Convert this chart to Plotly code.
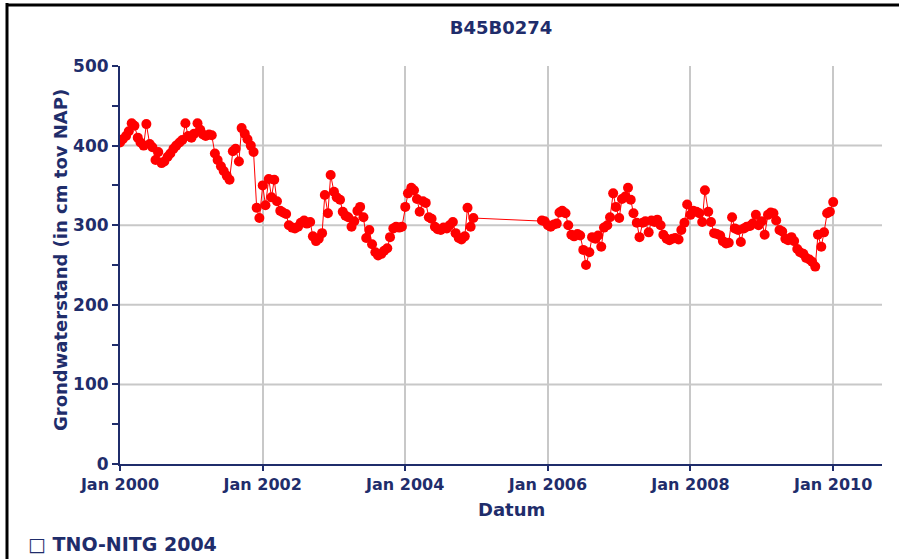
import pandas as pd
import plotly.graph_objects as go

# Groundwater level readings (cm above NAP), sampled on the 1st and 15th of each month
levels_2000 = [404, 408, 412, 418, 428, 425, 410, 404, 400, 427, 402, 398,
               382, 392, 378, 380, 386, 390, 396, 400, 404, 407, 428, 412]
levels_2001 = [410, 415, 428, 420, 414, 412, 414, 413, 390, 382, 374, 368,
               362, 357, 393, 396, 380, 422, 415, 408, 400, 392, 322, 309]
levels_2002 = [350, 325, 358, 335, 357, 330, 318, 316, 314, 300, 297, 296,
               298, 303, 306, 302, 304, 286, 280, 283, 290, 338, 315, 363]
levels_2003 = [342, 335, 332, 317, 312, 310, 298, 305, 318, 323, 310, 284,
               294, 276, 266, 262, 264, 268, 271, 285, 296, 298, 297, 298]
levels_2004 = [323, 340, 347, 344, 333, 317, 330, 328, 310, 308, 298, 295,
               294, 297, 296, 300, 304, 290, 284, 282, 286, 322, 298, 309]

levels_2005_end = [306, 305]
levels_2006 = [300, 298, 301, 302, 316, 318, 315, 300, 288, 286, 289, 287,
               269, 250, 266, 285, 283, 287, 273, 297, 300, 310, 340, 323]
levels_2007 = [309, 333, 336, 347, 332, 315, 303, 285, 303, 305, 291, 306,
               304, 307, 300, 288, 283, 281, 283, 284, 282, 294, 303, 326]
levels_2008 = [313, 318, 317, 315, 304, 344, 317, 304, 290, 289, 287, 280,
               277, 278, 310, 296, 294, 279, 296, 298, 299, 302, 313, 300]
levels_2009 = [305, 288, 313, 316, 315, 306, 294, 292, 283, 281, 285, 280,
               270, 266, 264, 259, 257, 254, 248, 288, 273, 291, 315, 317]
levels_2010 = [329]

period_1 = ("2000-01-01", "2004-12-15")
period_2 = ("2005-12-01", "2010-01-01")

x_ticks = ["2000-01-01", "2002-01-01", "2004-01-01", "2006-01-01",
           "2008-01-01", "2010-01-01"]
x_tick_text = ["Jan 2000", "Jan 2002", "Jan 2004", "Jan 2006",
               "Jan 2008", "Jan 2010"]
y_ticks = [0, 100, 200, 300, 400, 500]

series_title = "B45B0274"
x_title = "Datum"
y_title = "Grondwaterstand (in cm tov NAP)"
source_note = "\u25a1 TNO-NITG 2004"

dates_1 = pd.date_range(*period_1, freq="SMS")
dates_2 = pd.date_range(*period_2, freq="SMS")
values_1 = levels_2000 + levels_2001 + levels_2002 + levels_2003 + levels_2004
values_2 = levels_2005_end + levels_2006 + levels_2007 + levels_2008 + levels_2009 + levels_2010

dates = list(dates_1) + list(dates_2)
values = values_1 + values_2

NAVY = "#1f2d6b"
GRID = "#c8c8c8"
FONT = "DejaVu Sans"

fig = go.Figure(
    go.Scatter(
        x=dates,
        y=values,
        mode="lines+markers",
        line=dict(color="#ff0000", width=1),
        marker=dict(color="#ff0000", size=10, symbol="circle"),
        showlegend=False,
    )
)

W, H = 899, 559
L, R, T, B = 120, 17, 66, 95
pw, ph = W - L - R, H - T - B


def px_x(px):
    return (px - L) / pw


def px_y(py):
    return (H - B - py) / ph


# horizontal grid only between the axis ends (none along the 500 line)
grid_shapes = [
    dict(type="line", xref="paper", yref="y", x0=0, x1=1, y0=v, y1=v,
         line=dict(color=GRID, width=2), layer="below")
    for v in y_ticks[1:-1]
]

frame_shapes = [
    dict(type="line", xref="paper", yref="paper",
         x0=px_x(7), x1=px_x(7), y0=px_y(3), y1=px_y(H + 2),
         line=dict(color="black", width=3)),
    dict(type="line", xref="paper", yref="paper",
         x0=px_x(6), x1=px_x(W + 2), y0=px_y(5), y1=px_y(5),
         line=dict(color="black", width=3)),
]

fig.update_layout(
    width=W,
    height=H,
    margin=dict(l=L, r=R, t=T, b=B),
    paper_bgcolor="white",
    plot_bgcolor="white",
    font=dict(family=FONT, color=NAVY),
    title=dict(
        text="<b>" + series_title + "</b>",
        x=0.5, xref="paper", xanchor="center",
        y=1 - 28 / H, yref="container", yanchor="middle",
        font=dict(size=18, color=NAVY, family=FONT),
    ),
    xaxis=dict(
        type="date",
        range=["2000-01-01", "2010-09-08"],
        tickvals=x_ticks,
        ticktext=x_tick_text,
        showgrid=True, gridcolor=GRID, gridwidth=2,
        showline=True, linecolor=NAVY, linewidth=2,
        ticks="outside", ticklen=5, tickcolor=NAVY, tickwidth=2,
        tickfont=dict(size=16, color=NAVY, family=FONT, weight="bold"),
        zeroline=False,
    ),
    yaxis=dict(
        range=[0, 500],
        tickvals=y_ticks,
        showgrid=False,
        showline=True, linecolor=NAVY, linewidth=2,
        ticks="outside", ticklen=6, tickcolor=NAVY, tickwidth=2,
        minor=dict(dtick=50, ticks="outside", ticklen=6, tickcolor=NAVY,
                   tickwidth=2, showgrid=False),
        tickfont=dict(size=17, color=NAVY, family=FONT, weight="bold"),
        zeroline=False,
    ),
    annotations=[
        dict(text="<b>" + y_title + "</b>", textangle=-90,
             xref="paper", yref="paper", x=px_x(60), y=px_y(260),
             xanchor="center", yanchor="middle", showarrow=False,
             font=dict(size=18, color=NAVY, family=FONT)),
        dict(text="<b>" + x_title + "</b>",
             xref="paper", yref="paper", x=px_x(511), y=px_y(509),
             xanchor="center", yanchor="middle", showarrow=False,
             font=dict(size=18, color=NAVY, family=FONT)),
        dict(text="<b>" + source_note + "</b>",
             xref="paper", yref="paper", x=px_x(26), y=px_y(544),
             xanchor="left", yanchor="middle", showarrow=False,
             font=dict(size=19, color=NAVY, family=FONT)),
    ],
    shapes=grid_shapes + frame_shapes,
)

fig.write_html("out.html")
